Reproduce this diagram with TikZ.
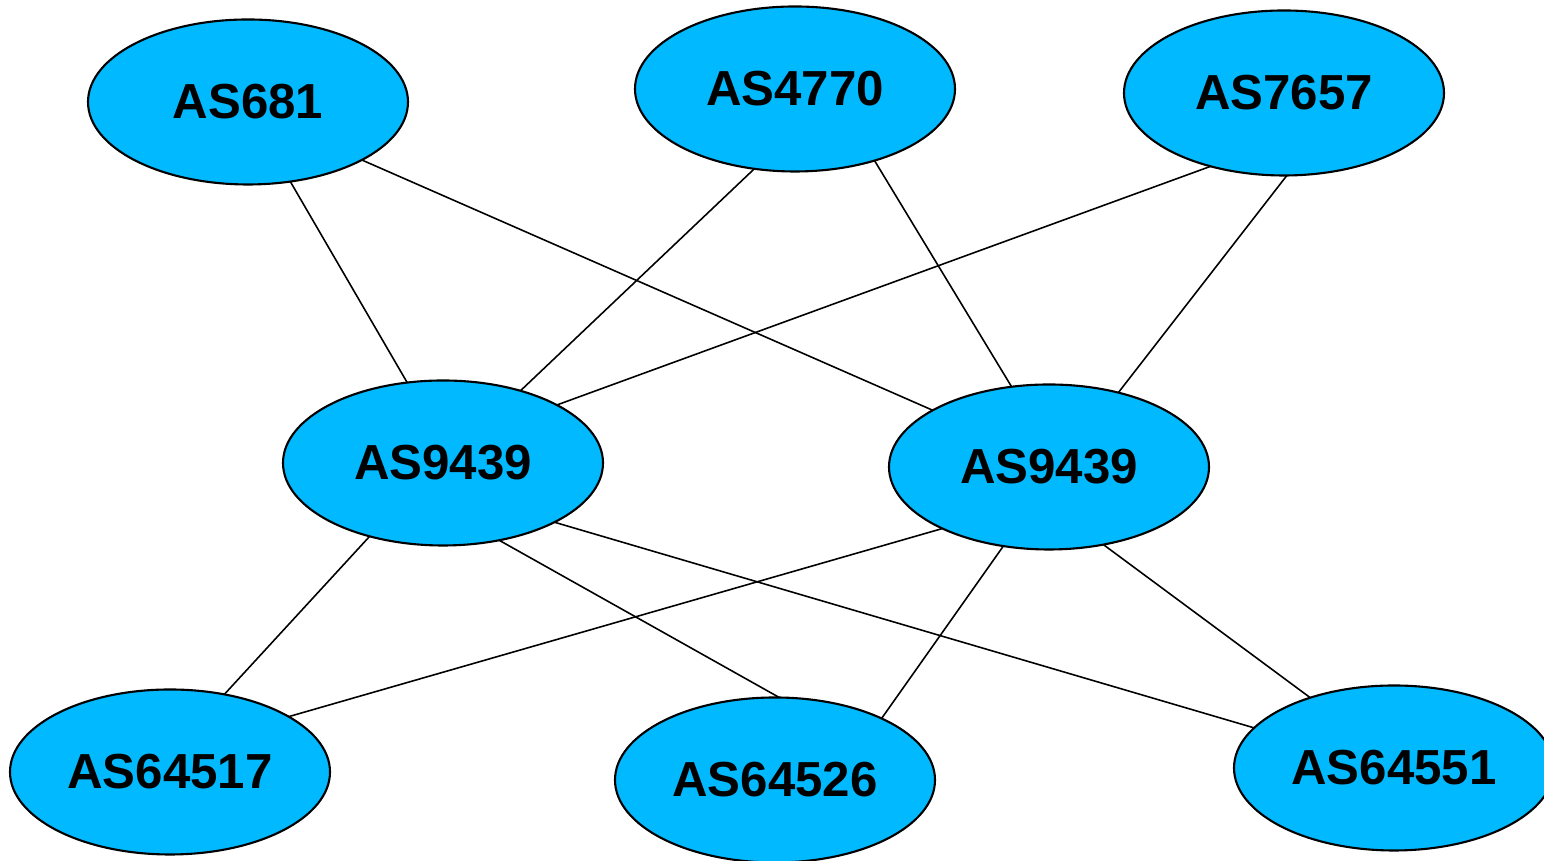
\documentclass[tikz,border=0pt]{standalone}
\usepackage{fontspec}
\setmainfont{Liberation Sans}
\usetikzlibrary{shapes.geometric}
\definecolor{asblue}{HTML}{00B9FF}
\begin{document}
\begin{tikzpicture}
\tikzset{
  asnode/.style={ellipse, draw, line width=0.6pt, fill=asblue, minimum width=3.2cm, minimum height=1.65cm, inner sep=0pt, outer sep=0pt, font=\fontsize{14}{16}\selectfont\bfseries},
  link/.style={line width=0.45pt}
}
\useasboundingbox (0, 0) rectangle (15.44, 8.61);

% Top row
\node[asnode] (as681) at (2.48, 7.59) {AS681};
\node[asnode] (as4770) at (7.95, 7.72) {AS4770};
\node[asnode] (as7657) at (12.84, 7.68) {AS7657};
% Middle row
\node[asnode] (leftas9439) at (4.43, 3.98) {AS9439};
\node[asnode] (rightas9439) at (10.49, 3.94) {AS9439};
% Bottom row
\node[asnode] (as64517) at (1.70, 0.89) {AS64517};
\node[asnode] (as64526) at (7.75, 0.81) {AS64526};
\node[asnode] (as64551) at (13.94, 0.93) {AS64551};

% Links to the middle row
\draw[link] (as681.-62) -- (leftas9439.114);
\draw[link] (as681.-27) -- (rightas9439.154);
\draw[link] (as4770.-117) -- (leftas9439.43);
\draw[link] (as4770.-42) -- (rightas9439.115);
\draw[link] (as7657.-135) -- (leftas9439.27);
\draw[link] (as7657.-88) -- (rightas9439.47);
% Links to the bottom row
\draw[link] (leftas9439.-135) -- (as64517.55);
\draw[link] (leftas9439.-54) -- (as64526.87);
\draw[link] (leftas9439.-28) -- (as64551.164);
\draw[link] (rightas9439.-150) -- (as64517.25);
\draw[link] (rightas9439.-120) -- (as64526.30);
\draw[link] (rightas9439.-55) -- (as64551.140);
\end{tikzpicture}
\end{document}
